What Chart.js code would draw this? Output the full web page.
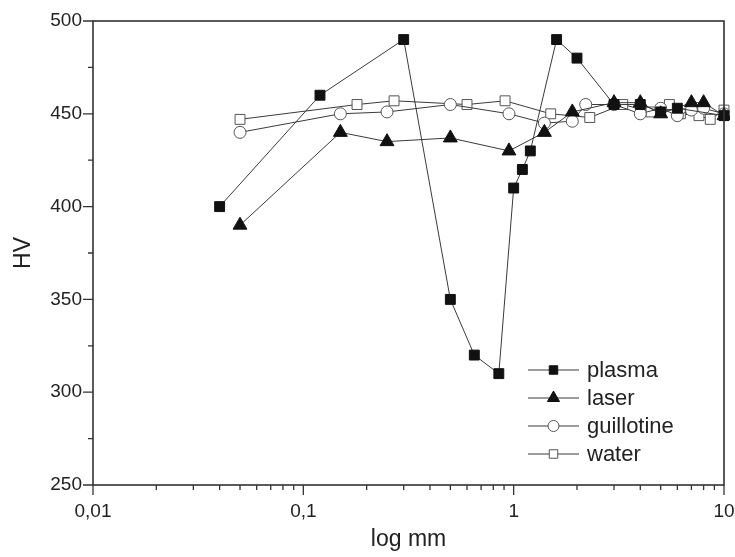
<!DOCTYPE html>
<html>
<head>
<meta charset="utf-8">
<script src="https://cdn.jsdelivr.net/npm/chart.js"></script>
<style>
  html, body { margin: 0; padding: 0; background: #fff; }
  #wrap { width: 735px; height: 557px; }
</style>
</head>
<body>
<div id="wrap"><canvas id="hvChart"></canvas></div>
<script>
// values (x in mm, log axis)
const seriesNames = ['plasma', 'laser', 'guillotine', 'water'];

const plasmaX  = [0.04, 0.12, 0.3, 0.5, 0.65, 0.85, 1.0, 1.1, 1.2, 1.6, 2.0, 3.0, 4.0, 5.0, 6.0, 10];
const plasmaHV = [400, 460, 490, 350, 320, 310, 410, 420, 430, 490, 480, 455, 455, 451, 453, 449];

const laserX  = [0.05, 0.15, 0.25, 0.5, 0.95, 1.4, 1.9, 3.0, 4.0, 5.0, 7.0, 8.0, 10];
const laserHV = [390, 440, 435, 437, 430, 440, 451, 456, 456, 450, 456, 456, 449];

const guillotineX  = [0.05, 0.15, 0.25, 0.5, 0.95, 1.4, 1.9, 2.2, 3.0, 4.0, 5.0, 6.0, 7.0, 8.0, 10];
const guillotineHV = [440, 450, 451, 455, 450, 445, 446, 455, 455, 450, 453, 449, 452, 453, 450];

const waterX  = [0.05, 0.18, 0.27, 0.6, 0.91, 1.5, 2.3, 3.3, 4.5, 5.5, 6.2, 7.6, 8.6, 10];
const waterHV = [447, 455, 457, 455, 457, 450, 448, 455, 451, 455, 450, 449, 447, 452];

const xTickValues = [0.01, 0.1, 1, 10];
const xTickLabels = ['0,01', '0,1', '1', '10'];
const yTickValues = [250, 300, 350, 400, 450, 500];

const FONT = '"Liberation Sans", Arial, Helvetica, sans-serif';
const INK = '#222';

function toPoints(xs, ys) {
    return xs.map((x, i) => ({ x: x, y: ys[i] }));
}

// kiểu marker cho từng series
const markerStyles = [
    { pointStyle: 'rect', radius: 7, fill: '#111', stroke: '#111', legendRadius: 6 },
    { pointStyle: 'triangle', radius: 8, fill: '#111', stroke: '#111', legendRadius: 7 },
    { pointStyle: 'circle', radius: 6, fill: '#fff', stroke: '#555', legendRadius: 5.5 },
    { pointStyle: 'rect', radius: 7, fill: '#fff', stroke: '#555', legendRadius: 6 }
];

const allPoints = [
    toPoints(plasmaX, plasmaHV),
    toPoints(laserX, laserHV),
    toPoints(guillotineX, guillotineHV),
    toPoints(waterX, waterHV)
];

const datasets = seriesNames.map((name, i) => ({
    label: name,
    data: allPoints[i],
    borderColor: '#3a3a3a',
    borderWidth: 1,
    pointStyle: markerStyles[i].pointStyle,
    pointRadius: markerStyles[i].radius,
    pointHoverRadius: markerStyles[i].radius,
    pointBackgroundColor: markerStyles[i].fill,
    pointBorderColor: markerStyles[i].stroke,
    pointBorderWidth: 1,
    tension: 0,
    fill: false,
    clip: 6
}));

// frame + outward ticks (major and minor)
const framePlugin = {
    id: 'frameTicks',
    afterDatasetsDraw(chart) {
        const ctx = chart.ctx;
        const a = chart.chartArea;
        const xs = chart.scales.x, ys = chart.scales.y;
        ctx.save();
        ctx.strokeStyle = '#333';
        ctx.lineWidth = 1.6;
        ctx.strokeRect(a.left, a.top, a.right - a.left, a.bottom - a.top);

        ctx.lineWidth = 1.3;
        ctx.beginPath();
        // x ticks
        for (let d = 0.01; d < 10; d *= 10) {
            for (let m = 1; m <= 10; m++) {
                const v = d * m;
                if (v > 10.0001) break;
                const px = xs.getPixelForValue(v);
                const len = (m === 1 || m === 10) ? 10 : 5;
                ctx.moveTo(px, a.bottom);
                ctx.lineTo(px, a.bottom + len);
            }
        }
        // y ticks
        for (let v = 250; v <= 500; v += 25) {
            const py = ys.getPixelForValue(v);
            const len = (v % 50 === 0) ? 10 : 5;
            ctx.moveTo(a.left, py);
            ctx.lineTo(a.left - len, py);
        }
        ctx.stroke();
        ctx.restore();
    }
};

// legend: line - marker - line, then text
const legendPlugin = {
    id: 'lineMarkerLegend',
    afterDraw(chart) {
        const ctx = chart.ctx;
        const a = chart.chartArea;
        const lineX1 = a.right - 196, lineX2 = a.right - 145;
        const midX = (lineX1 + lineX2) / 2;
        const textX = a.right - 137;
        const rowY0 = a.bottom - 115, rowGap = 28;
        ctx.save();
        ctx.font = '22px ' + FONT;
        ctx.textBaseline = 'middle';
        ctx.textAlign = 'left';
        seriesNames.forEach((name, i) => {
            const y = rowY0 + i * rowGap;
            ctx.strokeStyle = '#3a3a3a';
            ctx.lineWidth = 1;
            ctx.beginPath();
            ctx.moveTo(lineX1, y);
            ctx.lineTo(lineX2, y);
            ctx.stroke();
            const ms = markerStyles[i];
            ctx.fillStyle = ms.fill;
            ctx.strokeStyle = ms.stroke;
            ctx.lineWidth = 1;
            Chart.helpers.drawPoint(ctx, { pointStyle: ms.pointStyle, radius: ms.legendRadius, rotation: 0, borderWidth: 1 }, midX, y);
            ctx.fillStyle = INK;
            ctx.fillText(name, textX, y + 1);
        });
        ctx.restore();
    }
};

const ctx = document.getElementById('hvChart').getContext('2d');
const hvChart = new Chart(ctx, {
    type: 'line',
    data: { datasets: datasets },
    options: {
        responsive: true,
        maintainAspectRatio: false,
        animation: false,
        devicePixelRatio: 1,
        layout: { padding: { top: 21, right: 11, left: 0, bottom: 0 } },
        plugins: {
            legend: { display: false },
            tooltip: { enabled: false }
        },
        scales: {
            x: {
                type: 'logarithmic',
                min: 0.01,
                max: 10,
                grid: { display: false, drawTicks: false },
                border: { display: false },
                ticks: {
                    autoSkip: false,
                    maxRotation: 0,
                    padding: 15,
                    color: INK,
                    font: { family: FONT, size: 19 },
                    callback: function(value) {
                        const idx = xTickValues.findIndex(t => Math.abs(Math.log10(t) - Math.log10(value)) < 1e-6);
                        return idx >= 0 ? xTickLabels[idx] : '';
                    }
                },
                title: {
                    display: true,
                    text: 'log mm',
                    color: INK,
                    font: { family: FONT, size: 23 },
                    padding: { top: 0, bottom: 4 }
                },
                afterFit: function(scale) {
                    scale.height = 72;
                    scale.paddingLeft = 0;
                    scale.paddingRight = 0;
                }
            },
            y: {
                min: 250,
                max: 500,
                grid: { display: false, drawTicks: false },
                border: { display: false },
                afterBuildTicks: function(scale) {
                    scale.ticks = yTickValues.map(v => ({ value: v }));
                },
                ticks: {
                    padding: 11,
                    color: INK,
                    font: { family: FONT, size: 19 }
                },
                title: {
                    display: true,
                    text: 'HV',
                    color: INK,
                    font: { family: FONT, size: 23 },
                    padding: { top: 10, bottom: 0 }
                },
                afterFit: function(scale) {
                    scale.width = 93;
                    scale.paddingTop = 0;
                    scale.paddingBottom = 0;
                }
            }
        }
    },
    plugins: [framePlugin, legendPlugin]
});
</script>
</body>
</html>
